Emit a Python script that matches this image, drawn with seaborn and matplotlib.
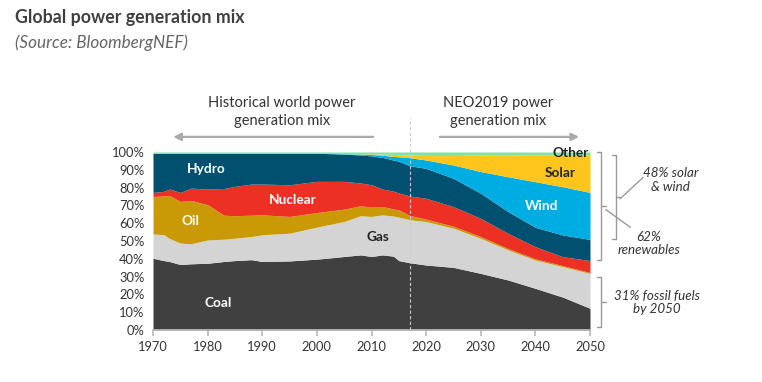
import numpy as np
import matplotlib
matplotlib.use("Agg")
import matplotlib.pyplot as plt
import seaborn as sns

# shares of world power generation, %
years = [1970, 1972, 1973, 1975, 1977, 1980, 1983, 1985, 1988, 1990, 1995, 2000,
         2005, 2008, 2010, 2012, 2014, 2015, 2017, 2020, 2025, 2030, 2035, 2040, 2045, 2050]
coal = [40.3, 39.0, 38.5, 36.8, 37.2, 37.5, 38.5, 39.0, 39.5, 38.5, 38.8, 39.8,
        41.3, 42.2, 41.3, 42.2, 41.5, 39.0, 37.8, 36.5, 35.2, 31.8, 28.1, 23.4, 18.5, 12.2]
gas = [13.7, 14.5, 13.0, 12.0, 11.3, 13.1, 12.5, 12.6, 13.0, 15.0, 15.6, 18.0,
       19.7, 22.0, 22.5, 22.5, 22.5, 24.4, 24.2, 24.4, 22.0, 19.7, 16.9, 15.9, 17.1, 19.6]
oil = [21.0, 21.8, 24.1, 23.4, 24.3, 19.8, 13.5, 12.6, 12.0, 11.2, 9.4, 8.2,
       6.9, 5.6, 5.2, 4.7, 4.0, 4.1, 2.4, 1.4, 1.1, 1.0, 0.8, 0.7, 0.6, 0.5]
nuclear = [2.3, 2.6, 3.6, 5.1, 6.9, 8.8, 15.0, 16.5, 17.5, 17.3, 17.8, 17.5,
           15.6, 12.8, 12.6, 9.8, 10.0, 9.5, 10.9, 11.7, 11.0, 10.2, 8.5, 6.8, 5.0, 6.7]
hydro = [22.0, 21.4, 20.1, 22.0, 19.6, 20.1, 19.8, 18.6, 17.3, 17.3, 17.7, 15.8,
         15.3, 15.7, 16.2, 17.8, 17.5, 17.8, 17.0, 16.8, 15.9, 14.1, 12.2, 10.9, 12.2, 11.9]
wind = [0, 0, 0, 0, 0, 0, 0, 0, 0, 0, 0, 0,
        0.2, 0.5, 0.8, 1.2, 2.0, 2.5, 4.5, 4.7, 7.5, 12.2, 19.6, 25.6, 27.1, 26.4]
solar = [0, 0, 0, 0, 0, 0, 0, 0, 0, 0, 0, 0,
         0, 0.1, 0.3, 0.6, 1.1, 1.2, 1.5, 2.5, 5.3, 9.3, 12.3, 15.2, 18.0, 21.2]
other = [0.7, 0.7, 0.7, 0.7, 0.7, 0.7, 0.7, 0.7, 0.7, 0.7, 0.7, 0.7,
         1.0, 1.1, 1.1, 1.2, 1.4, 1.5, 1.7, 2.0, 2.0, 1.7, 1.6, 1.5, 1.5, 1.5]

names = ["Coal", "Gas", "Oil", "Nuclear", "Hydro", "Wind", "Solar", "Other"]
colors = ["#404040", "#d4d4d4", "#c99a06", "#ec3124", "#01506f", "#00ade3", "#fec51c", "#7ee3a3"]

sns.set_theme(style="white")
plt.rcParams["font.family"] = ["Lato", "DejaVu Sans"]

fig = plt.figure(figsize=(7.62, 3.82), dpi=100)
ax = fig.add_axes([0.2008, 0.1361, 0.5735, 0.466])

ax.stackplot(years, coal, gas, oil, nuclear, hydro, wind, solar, other,
             colors=colors, labels=names, linewidth=0)

ax.set_xlim(1970, 2050)
ax.set_ylim(0, 100)
ax.set_xticks(range(1970, 2051, 10))
ax.set_yticks(range(0, 101, 10))
ax.set_yticklabels([f"{v}%" for v in range(0, 101, 10)])
ax.tick_params(axis="x", length=4, color="#bbbbbb", labelsize=9.3, labelcolor="#333333", pad=4)
ax.tick_params(axis="y", length=0, labelsize=9.3, labelcolor="#333333", pad=6)
ax.xaxis.set_ticks_position("bottom")
sns.despine(ax=ax, left=True)
ax.spines["bottom"].set_color("#bbbbbb")

# labels on the areas
lab = dict(fontsize=9.8, fontweight="bold", ha="center", va="center")
ax.text(1979.7, 90.4, "Hydro", color="white", **lab)
ax.text(1995.6, 73, "Nuclear", color="white", **lab)
ax.text(1976.8, 61, "Oil", color="white", **lab)
ax.text(2011.2, 52, "Gas", color="#222222", **lab)
ax.text(1981.9, 15.4, "Coal", color="white", **lab)
ax.text(2041.2, 69.7, "Wind", color="white", **lab)
ax.text(2044.5, 88, "Solar", color="#222222", **lab)
ax.text(2046.4, 99.5, "Other", color="#222222", **lab)

# history / outlook split
ax.plot([2017, 2017], [0, 119], ls=(0, (3, 2)), lw=0.8, color="#cccccc", clip_on=False)
arrow = dict(arrowstyle="-|>", color="#aaaaaa", lw=1.6, mutation_scale=11)
ax.annotate("", xy=(1973.2, 108.5), xytext=(2010.8, 108.5), arrowprops=arrow, annotation_clip=False)
ax.annotate("", xy=(2048.5, 108.5), xytext=(2022, 108.5), arrowprops=arrow, annotation_clip=False)
ax.text(1993.6, 122.5, "Historical world power\ngeneration mix", ha="center", va="center",
        fontsize=10.5, color="#333333", linespacing=1.3)
ax.text(2033.2, 122.5, "NEO2019 power\ngeneration mix", ha="center", va="center",
        fontsize=10.5, color="#333333", linespacing=1.3)


def bracket(x0, x1, y0, y1, tip):
    mid = (y0 + y1) / 2
    kw = dict(color="#999999", lw=1, clip_on=False)
    ax.plot([x0, x1, x1, x0], [y1, y1, y0, y0], **kw)
    ax.plot([x1, tip], [mid, mid], **kw)
    return mid


# right-hand brackets
m1 = bracket(2051.3, 2052.1, 39.3, 100, 2052.9)
ax.plot([2052.9, 2057.4], [m1 - 2, m1 - 12], color="#999999", lw=1, clip_on=False)
ax.text(2060.8, 48.5, "62%\nrenewables", ha="center", va="center", fontsize=9.6,
        style="italic", color="#333333", linespacing=1.15)

m2 = bracket(2054.0, 2054.7, 50.9, 98.5, 2055.5)
ax.plot([2055.5, 2059.7], [m2 - 1, m2 + 11], color="#999999", lw=1, clip_on=False)
ax.text(2064.7, 84.2, "48% solar\n& wind", ha="center", va="center", fontsize=9.6,
        style="italic", color="#333333", linespacing=1.15)

bracket(2051.3, 2052.1, 1.5, 29.5, 2052.9)
ax.text(2062.3, 15.5, "31% fossil fuels\nby 2050", ha="center", va="center", fontsize=9.6,
        style="italic", color="#333333", linespacing=1.15)

fig.text(0.02, 0.955, "Global power generation mix", fontsize=12.8, fontweight="bold",
         color="#404040", va="center")
fig.text(0.02, 0.887, "(Source: BloombergNEF)", fontsize=12.3, style="italic",
         color="#666666", va="center")

fig.savefig("out.png", dpi=100, facecolor="white")
